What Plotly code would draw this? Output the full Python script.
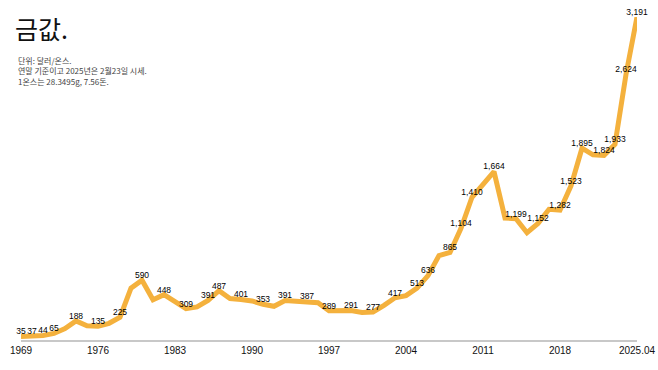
import plotly.graph_objects as go

years = list(range(1969, 2026))
prices = [35, 37, 44, 65, 112, 188, 140, 135, 165, 225,
          512, 590, 397, 448, 382, 309, 327, 391, 487, 410,
          401, 386, 353, 333, 391, 383, 387, 369, 289, 288,
          291, 272, 277, 342, 417, 438, 513, 636, 834, 865,
          1104, 1410, 1531, 1664, 1204, 1199, 1060, 1152, 1291, 1282,
          1523, 1895, 1829, 1824, 1933, 2624, 3191]
labeled_years = [1969, 1970, 1971, 1972, 1974, 1976, 1978, 1980, 1982, 1984,
                 1986, 1987, 1989, 1991, 1993, 1995, 1997, 1999, 2001, 2003,
                 2005, 2006, 2008, 2009, 2010, 2012, 2014, 2016, 2018, 2019,
                 2020, 2022, 2023, 2024, 2025]
tick_vals = [1969, 1976, 1983, 1990, 1997, 2004, 2011, 2018, 2025]
tick_text = ["1969", "1976", "1983", "1990", "1997", "2004", "2011", "2018", "2025.04"]

title = "금값."
notes = ["단위: 달러/온스.", "연말 기준이고 2025년은 2월23일 시세.", "1온스는 28.3495g, 7.56돈."]

texts = [f"{p:,}" if y in labeled_years else "" for y, p in zip(years, prices)]

fig = go.Figure()
fig.add_trace(go.Scatter(
    x=years, y=prices, mode="lines+text",
    line=dict(color="#F4B13D", width=5),
    text=texts, textposition="top center",
    textfont=dict(size=8.5, color="#000", family="Liberation Sans, Arial, sans-serif"),
    cliponaxis=False, hoverinfo="skip", showlegend=False,
))

fig.update_layout(
    width=658, height=370,
    margin=dict(l=21, r=21, t=17, b=30, autoexpand=False),
    paper_bgcolor="white", plot_bgcolor="white",
    xaxis=dict(range=[1969, 2025], tickvals=tick_vals, ticktext=tick_text,
               showgrid=False, zeroline=False, showline=True, automargin=False,
               linecolor="#c8c8c8", linewidth=2, ticks="",
               tickfont=dict(size=10, color="#111", family="Liberation Sans, Arial, sans-serif")),
    yaxis=dict(range=[0, 3191], visible=False, showgrid=False, zeroline=False, automargin=False),
    font=dict(family="Liberation Sans, Noto Sans CJK KR, sans-serif"),
)

fig.add_annotation(text=title, xref="paper", yref="paper", x=0, y=1,
                   xanchor="left", yanchor="top", showarrow=False,
                   xshift=-8, yshift=9,
                   font=dict(size=25, color="#111", family="Noto Sans CJK KR"))
fig.add_annotation(text="<br>".join(notes), xref="paper", yref="paper", x=0, y=1,
                   xanchor="left", yanchor="top", showarrow=False, align="left",
                   xshift=-5, yshift=-36,
                   font=dict(size=8, color="#444", family="Noto Sans CJK KR"))

fig.write_html(
    "out.html",
    config={"displayModeBar": False, "staticPlot": True},
    post_script="document.documentElement.style.overflow='hidden';"
                "document.body.style.margin='0';document.body.style.overflow='hidden';",
)
